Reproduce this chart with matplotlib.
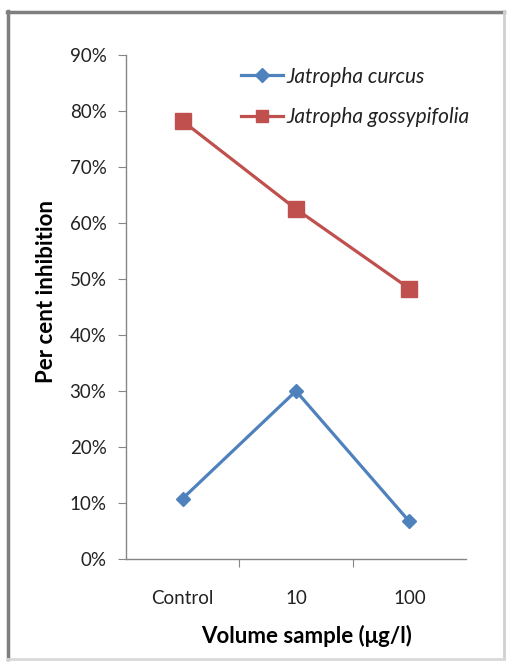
import matplotlib.pyplot as plt
from matplotlib.lines import Line2D
from matplotlib.ticker import PercentFormatter

plt.rcParams['font.family'] = ['Lato', 'DejaVu Sans']

categories = ["Control", "10", "100"]
curcus = [10.8, 30.0, 6.7]
gossypifolia = [78.2, 62.5, 48.3]
series_names = ["Jatropha curcus", "Jatropha gossypifolia"]

blue = "#4F81BD"
red = "#C0504D"
axis_grey = "#868686"
text_col = "#222222"

fig = plt.figure(figsize=(5.08, 6.64), dpi=100)
ax = fig.add_axes([126 / 508, 1 - 559 / 664, 340 / 508, 504 / 664])

x = range(len(categories))
ax.plot(x, curcus, color=blue, lw=2.3, marker="D", ms=7.5, label=series_names[0])
ax.plot(x, gossypifolia, color=red, lw=2.3, marker="s", ms=11.5, label=series_names[1])

ax.set_xlim(-0.5, len(categories) - 0.5)
ax.set_ylim(0, 90)
ax.set_yticks(range(0, 91, 10))
ax.yaxis.set_major_formatter(PercentFormatter(decimals=0))

# category names sit between the dividing ticks
ax.set_xticks([0.5, 1.5])
ax.set_xticklabels([])
ax.set_xticks(list(x), minor=True)
ax.set_xticklabels(categories, minor=True)
ax.tick_params(axis="x", which="minor", length=0, pad=22, labelsize=13.5, colors=text_col)
ax.tick_params(axis="x", which="major", length=6, direction="out", color=axis_grey)
ax.tick_params(axis="y", length=6, direction="out", color=axis_grey, labelsize=13.5,
               labelcolor=text_col, pad=8)

for side in ("top", "right"):
    ax.spines[side].set_visible(False)
for side in ("left", "bottom"):
    ax.spines[side].set_color(axis_grey)
    ax.spines[side].set_linewidth(1.0)

ax.set_ylabel("Per cent inhibition", fontsize=16, fontweight="bold", labelpad=9)
ax.set_xlabel("Volume sample (\u03bcg/l)", fontsize=16, fontweight="bold", labelpad=13)
ax.yaxis.label.set_y(0.53)
ax.xaxis.label.set_x(0.53)

handles = [
    Line2D([], [], color=blue, lw=2.3, marker="D", ms=7),
    Line2D([], [], color=red, lw=2.3, marker="s", ms=9),
]
leg = ax.legend(handles, series_names, loc="upper left", bbox_to_anchor=(0.338, 0.977),
                frameon=False, handlelength=2.0, handletextpad=0.2, labelspacing=1.0,
                borderpad=0, borderaxespad=0, prop={"style": "italic", "size": 15})
for t in leg.get_texts():
    t.set_color(text_col)

# outer chart frame with a darker upper-left edge
fig.add_artist(Line2D([7.5 / 508, 7.5 / 508], [1 - 11 / 664, 1 - 659 / 664],
                      color="#7f7f7f", lw=2.5, transform=fig.transFigure))
fig.add_artist(Line2D([7 / 508, 504 / 508], [1 - 11.5 / 664, 1 - 11.5 / 664],
                      color="#7f7f7f", lw=2.5, transform=fig.transFigure))
fig.add_artist(Line2D([504 / 508, 504 / 508], [1 - 11 / 664, 1 - 659 / 664],
                      color="#d0d0d0", lw=2, transform=fig.transFigure))
fig.add_artist(Line2D([7 / 508, 504 / 508], [1 - 659 / 664, 1 - 659 / 664],
                      color="#d9d9d9", lw=2, transform=fig.transFigure))

fig.savefig("out.png", dpi=100)
